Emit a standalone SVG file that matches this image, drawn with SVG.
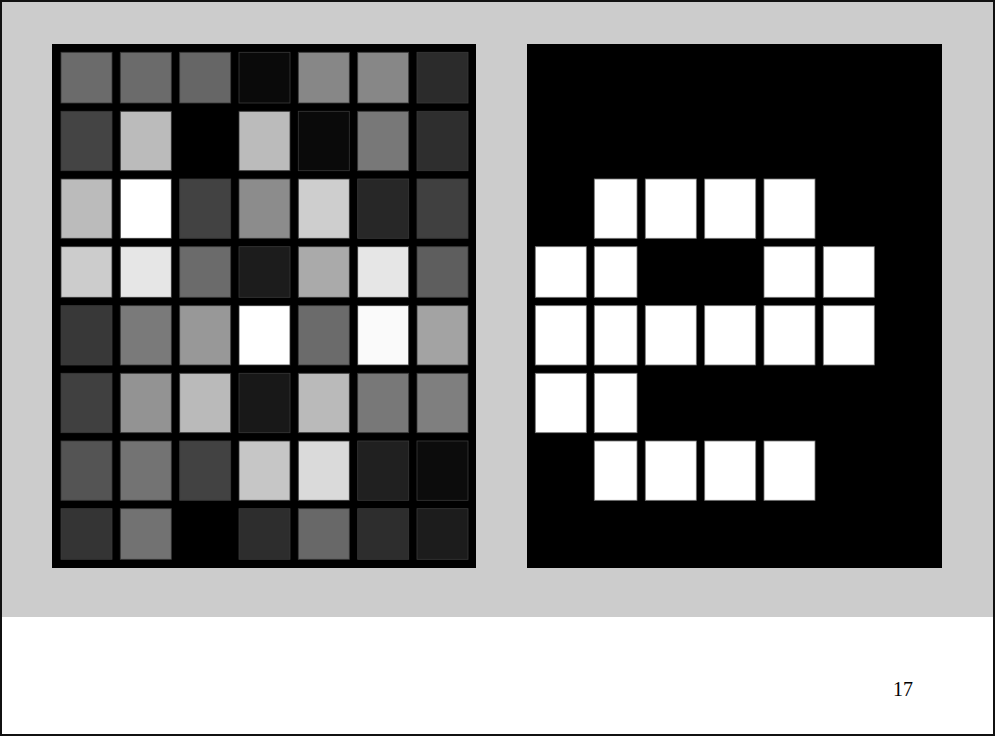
<svg xmlns="http://www.w3.org/2000/svg" width="995" height="736" viewBox="0 0 995 736">
<style>
.c{stroke:#3a3a3a;stroke-width:0.8}
.w{fill:#ffffff;stroke:#777777;stroke-width:0.8}
.num{font-family:"Liberation Serif","Times New Roman",serif;font-size:20px;fill:#000}
</style>
<rect x="0" y="0" width="995" height="736" fill="#ffffff"/>
<rect x="0" y="0" width="995" height="617" fill="#cccccc"/>
<rect x="1" y="1" width="993" height="734" fill="none" stroke="#111111" stroke-width="2"/>
<g id="gray-image">
<rect x="52" y="44" width="424" height="524" fill="#000000"/>
<g id="row1">
<rect class="c" x="61" y="52.3" width="51" height="50.7" fill="#6b6b6b"/>
<rect class="c" x="120.3" y="52.3" width="51" height="50.7" fill="#6b6b6b"/>
<rect class="c" x="179.7" y="52.3" width="51" height="50.7" fill="#666666"/>
<rect class="c" x="239" y="52.3" width="51" height="50.7" fill="#0a0a0a"/>
<rect class="c" x="298.3" y="52.3" width="51" height="50.7" fill="#878787"/>
<rect class="c" x="357.7" y="52.3" width="51" height="50.7" fill="#878787"/>
<rect class="c" x="417" y="52.3" width="51" height="50.7" fill="#2b2b2b"/>
</g>
<g id="row2">
<rect class="c" x="61" y="111.3" width="51" height="59.4" fill="#444444"/>
<rect class="c" x="120.3" y="111.3" width="51" height="59.4" fill="#bbbbbb"/>
<rect x="179.7" y="111.3" width="51" height="59.4" fill="#000000"/>
<rect class="c" x="239" y="111.3" width="51" height="59.4" fill="#bbbbbb"/>
<rect class="c" x="298.3" y="111.3" width="51" height="59.4" fill="#0a0a0a"/>
<rect class="c" x="357.7" y="111.3" width="51" height="59.4" fill="#787878"/>
<rect class="c" x="417" y="111.3" width="51" height="59.4" fill="#2e2e2e"/>
</g>
<g id="row3">
<rect class="c" x="61" y="179" width="51" height="59.3" fill="#bbbbbb"/>
<rect class="c" x="120.3" y="179" width="51" height="59.3" fill="#ffffff"/>
<rect class="c" x="179.7" y="179" width="51" height="59.3" fill="#424242"/>
<rect class="c" x="239" y="179" width="51" height="59.3" fill="#8c8c8c"/>
<rect class="c" x="298.3" y="179" width="51" height="59.3" fill="#cecece"/>
<rect class="c" x="357.7" y="179" width="51" height="59.3" fill="#272727"/>
<rect class="c" x="417" y="179" width="51" height="59.3" fill="#404040"/>
</g>
<g id="row4">
<rect class="c" x="61" y="246.7" width="51" height="50.6" fill="#cccccc"/>
<rect class="c" x="120.3" y="246.7" width="51" height="50.6" fill="#e6e6e6"/>
<rect class="c" x="179.7" y="246.7" width="51" height="50.6" fill="#6b6b6b"/>
<rect class="c" x="239" y="246.7" width="51" height="50.6" fill="#1c1c1c"/>
<rect class="c" x="298.3" y="246.7" width="51" height="50.6" fill="#aaaaaa"/>
<rect class="c" x="357.7" y="246.7" width="51" height="50.6" fill="#e6e6e6"/>
<rect class="c" x="417" y="246.7" width="51" height="50.6" fill="#5e5e5e"/>
</g>
<g id="row5">
<rect class="c" x="61" y="305.7" width="51" height="59.3" fill="#383838"/>
<rect class="c" x="120.3" y="305.7" width="51" height="59.3" fill="#7a7a7a"/>
<rect class="c" x="179.7" y="305.7" width="51" height="59.3" fill="#989898"/>
<rect class="c" x="239" y="305.7" width="51" height="59.3" fill="#ffffff"/>
<rect class="c" x="298.3" y="305.7" width="51" height="59.3" fill="#6b6b6b"/>
<rect class="c" x="357.7" y="305.7" width="51" height="59.3" fill="#fafafa"/>
<rect class="c" x="417" y="305.7" width="51" height="59.3" fill="#a3a3a3"/>
</g>
<g id="row6">
<rect class="c" x="61" y="373.3" width="51" height="59.4" fill="#404040"/>
<rect class="c" x="120.3" y="373.3" width="51" height="59.4" fill="#939393"/>
<rect class="c" x="179.7" y="373.3" width="51" height="59.4" fill="#bababa"/>
<rect class="c" x="239" y="373.3" width="51" height="59.4" fill="#181818"/>
<rect class="c" x="298.3" y="373.3" width="51" height="59.4" fill="#bababa"/>
<rect class="c" x="357.7" y="373.3" width="51" height="59.4" fill="#787878"/>
<rect class="c" x="417" y="373.3" width="51" height="59.4" fill="#7f7f7f"/>
</g>
<g id="row7">
<rect class="c" x="61" y="441" width="51" height="59.3" fill="#545454"/>
<rect class="c" x="120.3" y="441" width="51" height="59.3" fill="#737373"/>
<rect class="c" x="179.7" y="441" width="51" height="59.3" fill="#424242"/>
<rect class="c" x="239" y="441" width="51" height="59.3" fill="#c6c6c6"/>
<rect class="c" x="298.3" y="441" width="51" height="59.3" fill="#dadada"/>
<rect class="c" x="357.7" y="441" width="51" height="59.3" fill="#202020"/>
<rect class="c" x="417" y="441" width="51" height="59.3" fill="#0c0c0c"/>
</g>
<g id="row8">
<rect class="c" x="61" y="508.7" width="51" height="50.6" fill="#343434"/>
<rect class="c" x="120.3" y="508.7" width="51" height="50.6" fill="#727272"/>
<rect x="179.7" y="508.7" width="51" height="50.6" fill="#000000"/>
<rect class="c" x="239" y="508.7" width="51" height="50.6" fill="#2d2d2d"/>
<rect class="c" x="298.3" y="508.7" width="51" height="50.6" fill="#686868"/>
<rect class="c" x="357.7" y="508.7" width="51" height="50.6" fill="#2d2d2d"/>
<rect class="c" x="417" y="508.7" width="51" height="50.6" fill="#1c1c1c"/>
</g>
</g>
<g id="binary-image">
<rect x="527" y="44" width="415" height="524" fill="#000000"/>
<g id="brow3">
<rect class="w" x="594.3" y="179" width="42.7" height="59.3"/>
<rect class="w" x="645.3" y="179" width="51" height="59.3"/>
<rect class="w" x="704.7" y="179" width="51" height="59.3"/>
<rect class="w" x="764" y="179" width="51" height="59.3"/>
</g>
<g id="brow4">
<rect class="w" x="535.3" y="246.7" width="51" height="50.6"/>
<rect class="w" x="594.3" y="246.7" width="42.7" height="50.6"/>
<rect class="w" x="764" y="246.7" width="51" height="50.6"/>
<rect class="w" x="823.3" y="246.7" width="51" height="50.6"/>
</g>
<g id="brow5">
<rect class="w" x="535.3" y="305.7" width="51" height="59.3"/>
<rect class="w" x="594.3" y="305.7" width="42.7" height="59.3"/>
<rect class="w" x="645.3" y="305.7" width="51" height="59.3"/>
<rect class="w" x="704.7" y="305.7" width="51" height="59.3"/>
<rect class="w" x="764" y="305.7" width="51" height="59.3"/>
<rect class="w" x="823.3" y="305.7" width="51" height="59.3"/>
</g>
<g id="brow6">
<rect class="w" x="535.3" y="373.3" width="51" height="59.4"/>
<rect class="w" x="594.3" y="373.3" width="42.7" height="59.4"/>
</g>
<g id="brow7">
<rect class="w" x="594.3" y="441" width="42.7" height="59.3"/>
<rect class="w" x="645.3" y="441" width="51" height="59.3"/>
<rect class="w" x="704.7" y="441" width="51" height="59.3"/>
<rect class="w" x="764" y="441" width="51" height="59.3"/>
</g>
</g>
<g id="connectors"></g>
<text class="num" x="893" y="696">17</text>
</svg>
